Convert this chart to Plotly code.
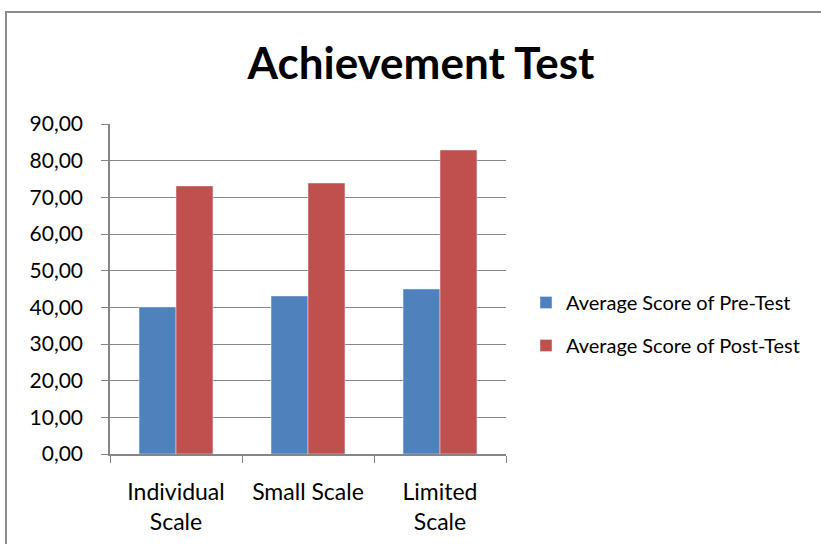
import plotly.graph_objects as go

categories = ["Individual<br>Scale", "Small Scale", "Limited<br>Scale"]
pre_test = [40.1, 43.1, 45.0]
post_test = [73.1, 73.9, 82.9]

FONT = "Lato, Calibri, 'Open Sans', sans-serif"
AXIS_GRAY = "#868686"

fig = go.Figure()
fig.add_trace(go.Bar(x=categories, y=pre_test, name="Average Score of Pre-Test",
                     legendgroup="pre", marker=dict(color="#4F81BD")))
fig.add_trace(go.Bar(x=categories, y=post_test, name="Average Score of Post-Test",
                     legendgroup="post", marker=dict(color="#C0504D")))

fig.update_layout(
    width=821,
    height=544,
    paper_bgcolor="white",
    plot_bgcolor="white",
    separators=",.",
    barmode="group",
    bargap=0.44,
    bargroupgap=0,
    margin=dict(l=110, r=315, t=124, b=90, autoexpand=False),
    font=dict(family=FONT, color="black", size=21),
    title=dict(text="<b>Achievement Test</b>", x=421 / 821, xanchor="center",
               y=1 - 64 / 544, yanchor="middle",
               font=dict(family=FONT, size=44, color="black")),
    legend=dict(x=(526 - 110) / 396, xanchor="left", y=0.394, yanchor="middle",
                font=dict(size=20), itemwidth=30, tracegroupgap=14,
                bgcolor="rgba(0,0,0,0)"),
    showlegend=True,
)

fig.update_yaxes(range=[0, 90], dtick=10, tickformat=".2f",
                 showgrid=True, gridcolor=AXIS_GRAY, gridwidth=1,
                 showline=True, linecolor=AXIS_GRAY, linewidth=1.5,
                 ticks="outside", ticklen=7, tickcolor=AXIS_GRAY,
                 ticklabelstandoff=14,
                 tickfont=dict(size=21), zeroline=False)
fig.update_xaxes(showline=True, linecolor=AXIS_GRAY, linewidth=1.5,
                 ticks="outside", tickson="boundaries", ticklen=7,
                 tickcolor=AXIS_GRAY, ticklabelstandoff=17,
                 tickfont=dict(size=23))

# outer chart border like the spreadsheet frame
fig.add_shape(type="rect", xref="paper", yref="paper",
              x0=-104 / 396, x1=2, y0=-1, y1=(454 - 12) / 330,
              line=dict(color="#8c8c8c", width=2), layer="below")

# drop the default page margin so the figure sits at the window corner
fig.write_html("out.html", config={"displayModeBar": False},
               post_script="document.body.style.margin='0';")
